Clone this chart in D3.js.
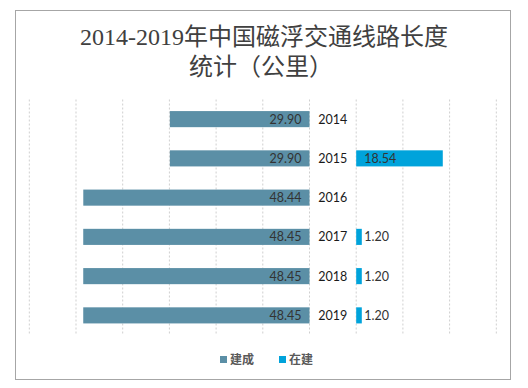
<!DOCTYPE html>
<html>
<head>
<meta charset="utf-8">
<script src="https://cdn.jsdelivr.net/npm/d3@7"></script>
<style>
  body { margin: 0; background: #fff; }
  svg { display: block; }
</style>
</head>
<body>
<svg id="chart" width="528" height="388"></svg>
<script>
var years = ["2014", "2015", "2016", "2017", "2018", "2019"];
var built = [29.90, 29.90, 48.44, 48.45, 48.45, 48.45];
var building = [null, 18.54, null, 1.20, 1.20, 1.20];
var leftTicks = [0, 10, 20, 30, 40, 50, 60];
var rightTicks = [0, 10, 20, 30];
var seriesNames = ["建成", "在建"];
var colors = ["#5b8fa6", "#00a3db"];

var svg = d3.select("#chart"),
    TOP = 99.5,
    BOTTOM = 335;

var leftScale = d3.scaleLinear().domain([0, 60]).range([309.5, 29.3]),
    rightScale = d3.scaleLinear().domain([0, 30]).range([356.2, 496.3]),
    yScale = d3.scaleBand().domain(years).range([TOP, BOTTOM])
      .paddingInner(0.59).paddingOuter(0.295);

// frame
svg.append("rect")
  .attr("x", 15.5).attr("y", 10.5)
  .attr("width", 495).attr("height", 369)
  .attr("fill", "#fff")
  .attr("stroke", "#a6a6a6");

// title
var title = svg.append("text")
  .attr("text-anchor", "middle")
  .attr("fill", "#404040")
  .style("font-family", "'Liberation Serif', 'Noto Sans CJK SC', serif")
  .style("font-size", "24px");
title.append("tspan").attr("x", 264).attr("y", 45).text("2014-2019年中国磁浮交通线路长度");
title.append("tspan").attr("x", 261).attr("y", 75).text("统计（公里）");

// gridlines
var grid = svg.append("g");
grid.selectAll(".gl")
  .data(leftTicks)
  .enter().append("line")
  .attr("x1", function(d) { return leftScale(d); })
  .attr("x2", function(d) { return leftScale(d); })
  .attr("y1", TOP).attr("y2", BOTTOM)
  .attr("stroke", "#cfcfcf")
  .attr("stroke-dasharray", "2,2");
grid.selectAll(".gr")
  .data(rightTicks)
  .enter().append("line")
  .attr("x1", function(d) { return rightScale(d); })
  .attr("x2", function(d) { return rightScale(d); })
  .attr("y1", TOP).attr("y2", BOTTOM)
  .attr("stroke", "#cfcfcf")
  .attr("stroke-dasharray", "2,2");

var labelFont = "Lato, 'Noto Sans CJK SC', sans-serif";

// built bars (grow to the left)
svg.selectAll(".built")
  .data(built)
  .enter().append("rect")
  .attr("x", function(d) { return leftScale(d); })
  .attr("y", function(d, i) { return yScale(years[i]); })
  .attr("width", function(d) { return leftScale(0) - leftScale(d); })
  .attr("height", yScale.bandwidth())
  .attr("fill", colors[0]);

svg.selectAll(".builtLabel")
  .data(built)
  .enter().append("text")
  .attr("x", leftScale(0) - 8)
  .attr("y", function(d, i) { return yScale(years[i]) + yScale.bandwidth() / 2; })
  .attr("dy", "0.35em")
  .attr("text-anchor", "end")
  .attr("fill", "#333")
  .style("font-family", labelFont)
  .style("font-size", "12.5px")
  .text(function(d) { return d.toFixed(2); });

// building bars
var bData = building.map(function(v, i) { return { year: years[i], v: v }; })
  .filter(function(d) { return d.v !== null; });

svg.selectAll(".building")
  .data(bData)
  .enter().append("rect")
  .attr("x", rightScale(0))
  .attr("y", function(d) { return yScale(d.year); })
  .attr("width", function(d) { return rightScale(d.v) - rightScale(0); })
  .attr("height", yScale.bandwidth())
  .attr("fill", colors[1]);

svg.selectAll(".buildingLabel")
  .data(bData)
  .enter().append("text")
  .attr("x", rightScale(0) + 8)
  .attr("y", function(d) { return yScale(d.year) + yScale.bandwidth() / 2; })
  .attr("dy", "0.35em")
  .attr("fill", "#333")
  .style("font-family", labelFont)
  .style("font-size", "12.5px")
  .text(function(d) { return d.v.toFixed(2); });

// year labels in the gap
svg.selectAll(".year")
  .data(years)
  .enter().append("text")
  .attr("x", (leftScale(0) + rightScale(0)) / 2)
  .attr("y", function(d) { return yScale(d) + yScale.bandwidth() / 2; })
  .attr("dy", "0.35em")
  .attr("text-anchor", "middle")
  .attr("fill", "#1a1a1a")
  .style("font-family", labelFont)
  .style("font-size", "12.5px")
  .text(function(d) { return d; });

// legend
var legendX = [220, 279];
var legend = svg.selectAll(".legend")
  .data(seriesNames)
  .enter().append("g")
  .attr("transform", function(d, i) { return "translate(" + legendX[i] + ",356)"; });
legend.append("rect")
  .attr("width", 7).attr("height", 7)
  .attr("fill", function(d, i) { return colors[i]; });
legend.append("text")
  .attr("x", 10).attr("y", 3.5)
  .attr("dy", "0.35em")
  .attr("fill", "#595959")
  .style("font-family", "'Noto Sans CJK SC', sans-serif")
  .style("font-size", "12px")
  .style("font-weight", "bold")
  .text(function(d) { return d; });
</script>
</body>
</html>
